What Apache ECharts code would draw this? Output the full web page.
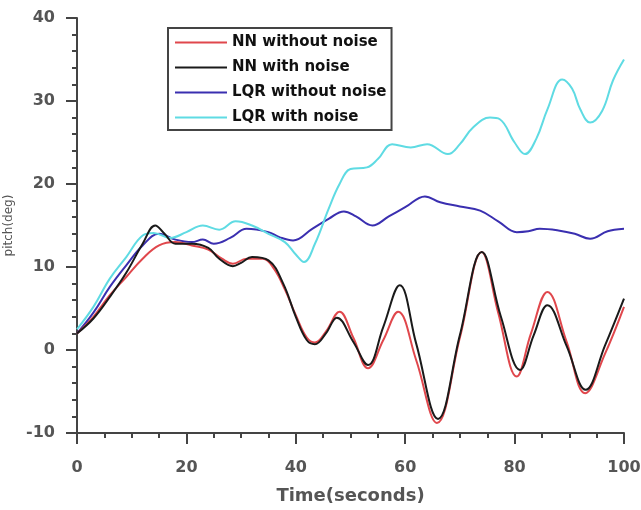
<!DOCTYPE html>
<html>
<head>
<meta charset="utf-8">
<script src="https://cdn.jsdelivr.net/npm/echarts@6/dist/echarts.min.js"></script>
<style>html,body{margin:0;padding:0;background:#fff}#c{width:641px;height:510px}</style>
</head>
<body>
<div id="c"></div>
<script>
var seriesNames = ['NN without noise', 'NN with noise', 'LQR without noise', 'LQR with noise'];
var xTicks = [0, 20, 40, 60, 80, 100];
var yTicks = [-10, 0, 10, 20, 30, 40];

var nnNoNoise = [[0,2],[3,4],[6,6.6],[9,8.8],[12,11],[15,12.6],[18,13],[21,12.6],[24,12.1],[26.5,11],[28.5,10.4],[31,11],[34,11],[36,9.8],[38,7.3],[40,4.2],[42,1.5],[43.5,0.9],[45.5,2.2],[48,4.6],[50.5,1.5],[53.2,-2.2],[56,1.2],[58.7,4.6],[62,-1.2],[65.8,-8.8],[70,1.5],[74,11.8],[77,4.5],[80.4,-3.2],[83,2],[86,7],[89.5,1],[92.9,-5.2],[96.5,-0.5],[100,5.2]];
var nnNoise = [[0,2],[3,3.8],[6,6.4],[9,9.3],[12,12.8],[14.3,15],[16,14],[18,12.8],[21,12.8],[24,12.3],[26,11],[28.5,10.1],[30,10.5],[32,11.2],[35,10.8],[37.7,8],[40,4],[42,1.2],[43.5,0.7],[45.5,2],[47.5,3.9],[50.5,1],[53.2,-1.8],[56,2.8],[59,7.8],[62,0.8],[66,-8.3],[70,1.8],[74,11.8],[77.5,4],[81,-2.4],[83.5,1.8],[86,5.4],[89.5,0.5],[93,-4.8],[96.5,0.5],[100,6.2]];
var lqrNoNoise = [[0,2],[3,4.5],[6,7.6],[9,10.2],[12,12.6],[15,14],[18,13.3],[21,13],[23,13.3],[25,12.8],[28,13.5],[31,14.6],[35,14.2],[37,13.6],[39.5,13.2],[43,14.6],[46,15.8],[48.8,16.7],[51,16.1],[54,15],[57,16.1],[60,17.2],[63.6,18.5],[66.4,17.8],[70,17.3],[73.7,16.8],[77,15.5],[80.4,14.2],[82.5,14.3],[84.6,14.6],[88,14.4],[91,14],[93.8,13.4],[97,14.3],[100,14.6]];
var lqrNoise = [[0,2.5],[3,5.2],[6,8.6],[9,11.2],[12,13.8],[14,14.1],[17,13.5],[20,14.2],[23,15],[26,14.5],[29,15.5],[32,15],[35,14],[38,13],[40,11.5],[41.5,10.6],[43.5,12.8],[46,17],[48,20],[50,21.8],[53,22],[55,23],[57.6,24.8],[61,24.4],[64,24.8],[67.8,23.6],[70,24.8],[72.4,26.8],[75.5,28],[77.3,27.8],[80,25],[81.9,23.6],[84,25.5],[86,29],[88.7,32.6],[90.5,31.5],[92,29],[93.8,27.4],[96,28.8],[98,32.5],[100,35]];

var colors = ['#e0474c', '#1a1a1a', '#3a2fb0', '#5fdbe3'];
var datasets = [nnNoNoise, nnNoise, lqrNoNoise, lqrNoise];

var chart = echarts.init(document.getElementById('c'), null, {renderer: 'canvas'});
var axisCol = '#444';
var labelStyle = {color: '#555', fontWeight: 'bold', fontSize: 16, fontFamily: 'DejaVu Sans, sans-serif'};

chart.setOption({
  animation: false,
  backgroundColor: '#fff',
  grid: {left: 77, right: 17, top: 18, bottom: 77, containLabel: false, outerBoundsMode: 'none'},
  legend: {
    data: seriesNames,
    orient: 'vertical',
    left: 168, top: 28,
    padding: [7, 5, 5, 7],
    itemWidth: 52,
    itemHeight: 2,
    itemGap: 10,
    icon: 'rect',
    itemTextGap: 2,
    borderColor: '#444',
    borderWidth: 2,
    backgroundColor: '#fff',
    textStyle: {color: '#111', fontWeight: 'bold', fontSize: 15, fontFamily: 'DejaVu Sans, sans-serif'}
  },
  xAxis: {
    type: 'value', min: xTicks[0], max: xTicks[xTicks.length - 1], interval: 20,
    name: 'Time(seconds)', nameLocation: 'middle', nameGap: 54,
    nameTextStyle: {color: '#555', fontWeight: 'bold', fontSize: 18, fontFamily: 'DejaVu Sans, sans-serif'},
    axisLine: {onZero: false, lineStyle: {color: axisCol, width: 2}},
    axisTick: {length: 11, lineStyle: {color: axisCol, width: 2}},
    minorTick: {show: true, splitNumber: 4, length: 5, lineStyle: {color: axisCol, width: 2}},
    axisLabel: Object.assign({margin: 27}, labelStyle),
    splitLine: {show: false}
  },
  yAxis: {
    type: 'value', min: yTicks[0], max: yTicks[yTicks.length - 1], interval: 10,
    name: 'pitch(deg)', nameLocation: 'middle', nameGap: 58,
    nameTextStyle: {color: '#555', fontSize: 12, fontFamily: 'DejaVu Sans, sans-serif'},
    axisLine: {onZero: false, lineStyle: {color: axisCol, width: 2}},
    axisTick: {length: 11, lineStyle: {color: axisCol, width: 2}},
    minorTick: {show: true, splitNumber: 5, length: 5, lineStyle: {color: axisCol, width: 2}},
    axisLabel: Object.assign({margin: 22}, labelStyle),
    splitLine: {show: false}
  },
  series: datasets.map(function (d, i) {
    return {
      name: seriesNames[i], type: 'line', data: d, smooth: 0.4,
      showSymbol: false, symbol: 'none',
      lineStyle: {color: colors[i], width: 2},
      itemStyle: {color: colors[i]},
      z: i === 1 ? 3 : (i === 0 ? 2 : 1)
    };
  })
});
</script>
</body>
</html>
